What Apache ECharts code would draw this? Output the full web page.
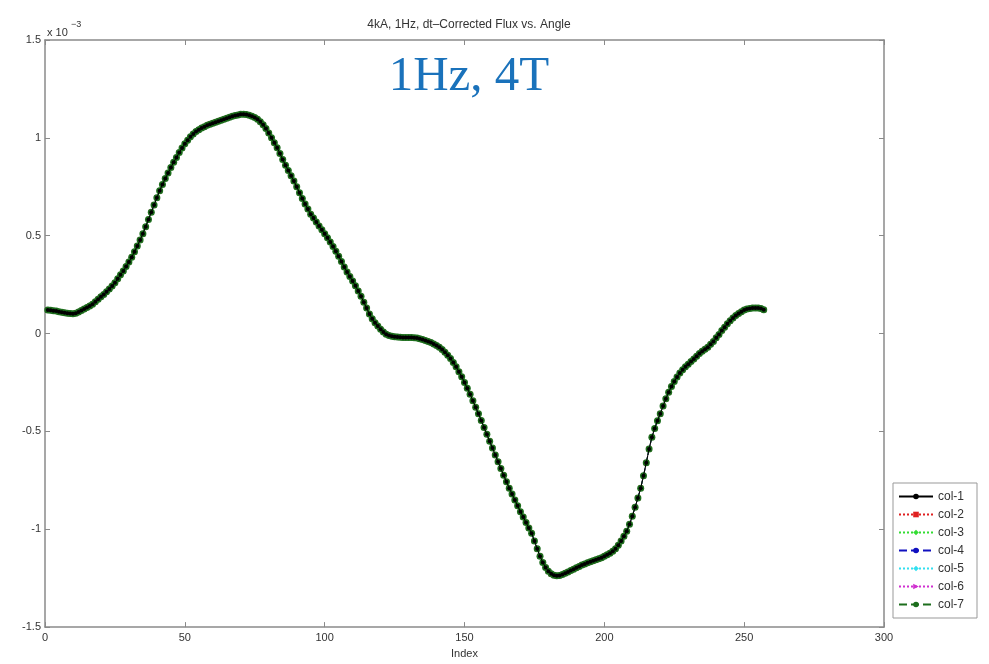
<!DOCTYPE html>
<html>
<head>
<meta charset="utf-8">
<script src="https://cdn.jsdelivr.net/npm/echarts@6/dist/echarts.min.js"></script>
<style>
html,body{margin:0;padding:0;background:#fff;}
#chart{width:989px;height:664px;}
</style>
</head>
<body>
<div id="chart"></div>
<script>
// Flux values (units of 1e-3), one per sample index starting at 1
const flux = [
 0.120, 0.119, 0.117, 0.115, 0.112, 0.109, 0.106, 0.104, 0.102, 0.101,
 0.104, 0.110, 0.118, 0.125, 0.133, 0.141, 0.150, 0.162, 0.175, 0.188,
 0.200, 0.214, 0.228, 0.243, 0.260, 0.280, 0.300, 0.320, 0.343, 0.366,
 0.390, 0.418, 0.447, 0.478, 0.510, 0.546, 0.583, 0.620, 0.657, 0.694,
 0.730, 0.762, 0.792, 0.820, 0.848, 0.875, 0.900, 0.925, 0.948, 0.970,
 0.988, 1.005, 1.020, 1.032, 1.042, 1.050, 1.057, 1.064, 1.070, 1.075,
 1.080, 1.085, 1.090, 1.095, 1.100, 1.105, 1.110, 1.114, 1.117, 1.120,
 1.121, 1.119, 1.115, 1.110, 1.104, 1.095, 1.082, 1.067, 1.048, 1.025,
 1.000, 0.975, 0.950, 0.920, 0.890, 0.860, 0.833, 0.806, 0.780, 0.750,
 0.720, 0.690, 0.662, 0.636, 0.610, 0.590, 0.570, 0.550, 0.530, 0.510,
 0.490, 0.468, 0.445, 0.420, 0.395, 0.368, 0.340, 0.315, 0.292, 0.268,
 0.244, 0.218, 0.190, 0.160, 0.130, 0.100, 0.075, 0.055, 0.038, 0.022,
 0.008, -0.003, -0.010, -0.014, -0.016, -0.018, -0.019, -0.020, -0.020, -0.020,
 -0.020, -0.021, -0.023, -0.026, -0.030, -0.035, -0.040, -0.046, -0.053, -0.061,
 -0.070, -0.082, -0.096, -0.111, -0.128, -0.148, -0.170, -0.195, -0.221, -0.250,
 -0.280, -0.310, -0.343, -0.377, -0.410, -0.444, -0.480, -0.515, -0.550, -0.585,
 -0.620, -0.655, -0.690, -0.724, -0.757, -0.790, -0.820, -0.850, -0.880, -0.910,
 -0.938, -0.965, -0.993, -1.020, -1.060, -1.100, -1.138, -1.170, -1.195, -1.215,
 -1.228, -1.235, -1.238, -1.236, -1.231, -1.225, -1.218, -1.211, -1.204, -1.197,
 -1.190, -1.183, -1.177, -1.171, -1.166, -1.161, -1.156, -1.151, -1.145, -1.138,
 -1.130, -1.122, -1.112, -1.100, -1.082, -1.060, -1.036, -1.010, -0.975, -0.933,
 -0.888, -0.840, -0.790, -0.727, -0.660, -0.590, -0.530, -0.485, -0.445, -0.410,
 -0.370, -0.333, -0.300, -0.270, -0.245, -0.222, -0.202, -0.185, -0.170, -0.157,
 -0.143, -0.130, -0.116, -0.102, -0.090, -0.080, -0.070, -0.055, -0.040, -0.022,
 -0.005, 0.015, 0.032, 0.050, 0.065, 0.080, 0.092, 0.103, 0.112, 0.120,
 0.125, 0.128, 0.130, 0.131, 0.130, 0.128, 0.122
];
const seriesNames = ['col-1','col-2','col-3','col-4','col-5','col-6','col-7'];
const seriesColors = ['#000000','#e02020','#33dd33','#1010c0','#33e0f0','#d030d0','#1d6e1d'];
const seriesSymbols = ['circle','rect','diamond','circle','diamond','path://M0,0 L10,5 L0,10 Z','circle'];
const seriesLineTypes = ['solid','dotted','dotted','dashed','dotted','dotted','dashed'];
const xTicks = {min:0, max:300, interval:50};
const yTicks = {min:-1.5, max:1.5, interval:0.5};
const titleText = '4kA, 1Hz, dt\u2013Corrected Flux vs. Angle';
const noteText = '1Hz, 4T';
const xName = 'Index';

const points = flux.map((v, i) => [i + 1, v]);

const axisGray = '#8a8a8a';
const labelStyle = {color:'#333', fontSize:11, fontFamily:'Liberation Sans, Arial, sans-serif'};

const chart = echarts.init(document.getElementById('chart'), null, {renderer:'canvas'});

const series = seriesNames.map((name, k) => ({
  name: name,
  type: 'line',
  data: points,
  xAxisIndex: 0,
  yAxisIndex: 0,
  symbol: seriesSymbols[k],
  symbolSize: k === 0 ? 4 : (k === 6 ? 7 : 5),
  showSymbol: true,
  animation: false,
  z: k === 0 ? 4 : 2 + k * 0.01,
  itemStyle: {color: seriesColors[k]},
  lineStyle: {color: seriesColors[k], width: 1, type: seriesLineTypes[k]},
  emphasis: {disabled: true}
}));

chart.setOption({
  animation: false,
  backgroundColor: '#fff',
  title: {
    text: titleText,
    left: 464, top: 14, textAlign: 'center',
    textStyle: {fontSize: 12, fontWeight: 'normal', color: '#333', fontFamily: 'Liberation Sans, Arial, sans-serif'}
  },
  grid: {left: 45, right: 105, top: 40, bottom: 36, containLabel: false},
  legend: {
    orient: 'vertical',
    left: 893, top: 483,
    itemWidth: 34, itemHeight: 7, itemGap: 5,
    padding: [7, 13, 7, 5],
    borderColor: '#999', borderWidth: 1,
    backgroundColor: '#fff',
    textStyle: {color:'#333', fontSize: 12, lineHeight: 13, fontFamily:'Liberation Sans, Arial, sans-serif'},
    data: seriesNames
  },
  xAxis: [
    {type:'value', position:'bottom', min:xTicks.min, max:xTicks.max, interval:xTicks.interval,
     name: xName, nameLocation:'middle', nameGap: 19, nameTextStyle: labelStyle,
     axisLine:{show:true, onZero:false, lineStyle:{color:axisGray, width:1.5}},
     axisTick:{show:true, inside:true, length:5, lineStyle:{color:axisGray}},
     axisLabel:Object.assign({margin:5}, labelStyle),
     splitLine:{show:false}},
    {type:'value', position:'top', min:xTicks.min, max:xTicks.max, interval:xTicks.interval,
     axisLine:{show:true, onZero:false, lineStyle:{color:axisGray, width:1.5}},
     axisTick:{show:true, inside:true, length:5, lineStyle:{color:axisGray}},
     axisLabel:{show:false}, splitLine:{show:false}}
  ],
  yAxis: [
    {type:'value', position:'left', min:yTicks.min, max:yTicks.max, interval:yTicks.interval,
     axisLine:{show:true, onZero:false, lineStyle:{color:axisGray, width:1.5}},
     axisTick:{show:true, inside:true, length:5, lineStyle:{color:axisGray}},
     axisLabel:Object.assign({margin:4}, labelStyle),
     splitLine:{show:false}},
    {type:'value', position:'right', min:yTicks.min, max:yTicks.max, interval:yTicks.interval,
     axisLine:{show:true, onZero:false, lineStyle:{color:axisGray, width:1.5}},
     axisTick:{show:true, inside:true, length:5, lineStyle:{color:axisGray}},
     axisLabel:{show:false}, splitLine:{show:false}}
  ],
  graphic: [
    {type:'text', left: 47, top: 27,
     style:{text:'x 10', fill:'#333', font:'11px Liberation Sans, Arial, sans-serif'}},
    {type:'text', left: 71, top: 20,
     style:{text:'\u22123', fill:'#333', font:'9px Liberation Sans, Arial, sans-serif'}},
    {type:'text', x: 469, y: 102,
     style:{text: noteText, fill:'#1a72bb', font:'49px Liberation Serif, Times New Roman, serif',
            textAlign:'center', textVerticalAlign:'bottom'}}
  ],
  series: series
});
</script>
</body>
</html>
